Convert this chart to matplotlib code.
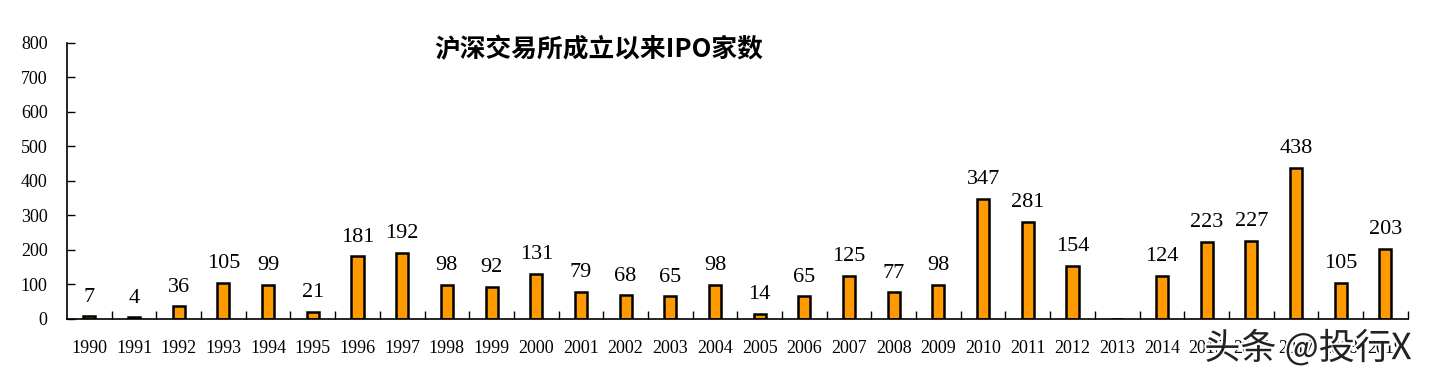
import matplotlib
matplotlib.use("Agg")
import matplotlib.pyplot as plt
from matplotlib.ticker import MultipleLocator
import matplotlib.patheffects as pe

years = [str(y) for y in range(1990, 2020)]
ipo_counts = [7, 4, 36, 105, 99, 21, 181, 192, 98, 92,
              131, 79, 68, 65, 98, 14, 65, 125, 77, 98,
              347, 281, 154, 0, 124, 223, 227, 438, 105, 203]
title = "沪深交易所成立以来IPO家数"
watermark = "头条 @投行X"

plt.rcParams['font.family'] = ['Liberation Serif', 'DejaVu Serif']

fig = plt.figure(figsize=(14.32, 3.8), dpi=100)
ax = fig.add_axes([0.0468, 0.161, 0.9362, 0.726])

x = list(range(len(years)))
bars = ax.bar(x, ipo_counts, width=0.27, color='#FF9900', edgecolor='black', linewidth=1.8)

for xi, v in zip(x, ipo_counts):
    if v > 0:
        ax.annotate(str(v), (xi, v), xytext=(0, 7), textcoords='offset points',
                    ha='center', va='bottom', fontsize=16)

ax.set_xlim(-0.5, len(years) - 0.5)
ax.set_ylim(0, 800)
ax.yaxis.set_major_locator(MultipleLocator(100))
ax.tick_params(axis='y', direction='in', length=6, width=1, labelsize=13, pad=14)

ax.set_xticks(x)
ax.set_xticklabels(years)
ax.set_xticks([i + 0.5 for i in x], minor=True)
ax.tick_params(axis='x', which='major', length=0, labelsize=13, pad=15)
ax.tick_params(axis='x', which='minor', direction='in', length=6, width=1)

for s in ['top', 'right']:
    ax.spines[s].set_visible(False)
for s in ['left', 'bottom']:
    ax.spines[s].set_linewidth(1.2)

fig.text(0.418, 0.868, title, fontsize=18.5, fontweight='bold', ha='center', va='center',
         family=['Noto Sans CJK SC', 'DejaVu Sans'])

fig.text(0.841, 0.083, watermark, fontsize=26, ha='left', va='center', color='#222222',
         family=['Noto Sans CJK SC', 'DejaVu Sans'],
         path_effects=[pe.withStroke(linewidth=3, foreground='white')])

fig.savefig("out.png", dpi=100)
